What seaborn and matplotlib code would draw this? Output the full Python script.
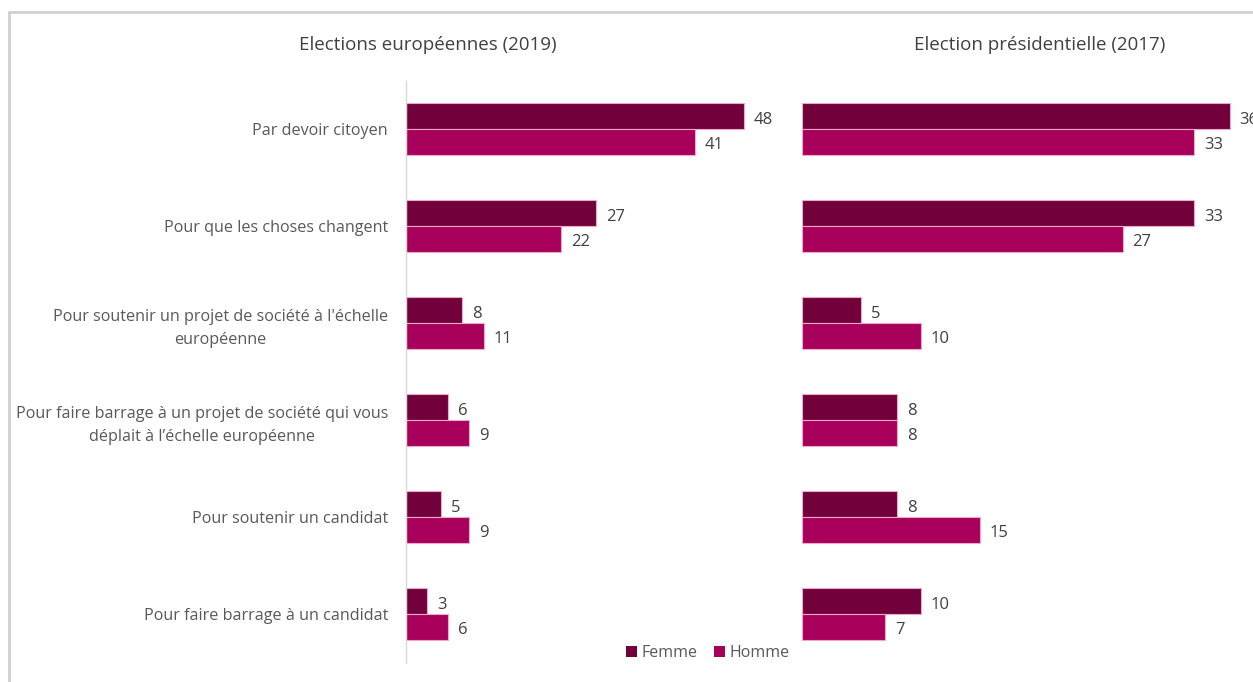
import matplotlib
matplotlib.use("Agg")
import matplotlib.pyplot as plt
import seaborn as sns
import pandas as pd
from matplotlib.lines import Line2D
from matplotlib.patches import Patch

categories = [
    "Par devoir citoyen",
    "Pour que les choses changent",
    "Pour soutenir un projet de société à l'échelle\neuropéenne",
    "Pour faire barrage à un projet de société qui vous\ndéplait à l’échelle européenne",
    "Pour soutenir un candidat",
    "Pour faire barrage à un candidat",
]
euro_femme = [48, 27, 8, 6, 5, 3]
euro_homme = [41, 22, 11, 9, 9, 6]
pres_femme = [36, 33, 5, 8, 8, 10]
pres_homme = [33, 27, 10, 8, 15, 7]
series = ["Femme", "Homme"]
titles = ["Elections européennes (2019)", "Election présidentielle (2017)"]

colors = {"Femme": "#72003A", "Homme": "#A8005A"}
txt = "#595959"

sns.set_theme(style="white")
plt.rcParams["font.family"] = ["Open Sans", "DejaVu Sans"]

def make_df(f, h):
    rows = []
    for c, a, b in zip(categories, f, h):
        rows.append((c, "Femme", a))
        rows.append((c, "Homme", b))
    return pd.DataFrame(rows, columns=["cat", "sexe", "val"])

W, H = 1253, 682
fig = plt.figure(figsize=(W / 100, H / 100), dpi=100)

def ax_rect(x0, x1, y0, y1):
    return [x0 / W, 1 - y1 / H, (x1 - x0) / W, (y1 - y0) / H]

y_top, y_bot = 80.5, 662.5
ax1 = fig.add_axes(ax_rect(406, 780, y_top, y_bot))
ax2 = fig.add_axes(ax_rect(802, 802 + 40 * 11.88, y_top, y_bot))

for ax, f, h, xmax, title, tx in [
    (ax1, euro_femme, euro_homme, (780 - 406) / 7.05, titles[0], 428),
    (ax2, pres_femme, pres_homme, 40, titles[1], 1040),
]:
    df = make_df(f, h)
    sns.barplot(data=df, y="cat", x="val", hue="sexe", order=categories,
                hue_order=series, palette=colors, saturation=1, orient="h",
                width=0.53, edgecolor="#F0A8C8", linewidth=0.8, ax=ax,
                legend=False)
    ax.set_xlim(0, xmax)
    ax.set_ylim(5.5, -0.5)
    ax.set_xlabel("")
    ax.set_ylabel("")
    ax.set_xticks([])
    for s in ax.spines.values():
        s.set_visible(False)
    for cont in ax.containers:
        anns = ax.bar_label(cont, padding=7, fontsize=12, color="#404040")
        for a in anns:
            a.xyann = (7, -2.5)
    fig.text(tx / W, 1 - 45 / H, title, ha="center", va="center",
             fontsize=13.5, color="#404040")

ax1.spines["left"].set_visible(True)
ax1.spines["left"].set_color("#D9D9D9")
ax1.spines["left"].set_linewidth(1)
ax1.tick_params(axis="y", length=0, pad=13, labelsize=11.6, labelcolor=txt)
for lab in ax1.get_yticklabels():
    lab.set_multialignment("center")
    lab.set_linespacing(1.55)
ax2.set_yticks([])
ax1.set_ylim(5.5, -0.5)

# frame
fig.add_artist(Line2D([9 / W, 9 / W], [0, 1 - 12 / H], transform=fig.transFigure,
                      color="#D0D0D0", linewidth=2))
fig.add_artist(Line2D([9 / W, 1], [1 - 12 / H, 1 - 12 / H], transform=fig.transFigure,
                      color="#D0D0D0", linewidth=2))

handles = [Patch(facecolor=colors[s], edgecolor="none", label=s) for s in series]
fig.legend(handles=handles, loc="center", bbox_to_anchor=(708 / W, 1 - 653 / H),
           ncol=2, frameon=False, fontsize=11.5, handlelength=0.7, handleheight=0.7,
           handletextpad=0.3, columnspacing=1.0, labelcolor=txt)

fig.savefig("out.png", dpi=100)
